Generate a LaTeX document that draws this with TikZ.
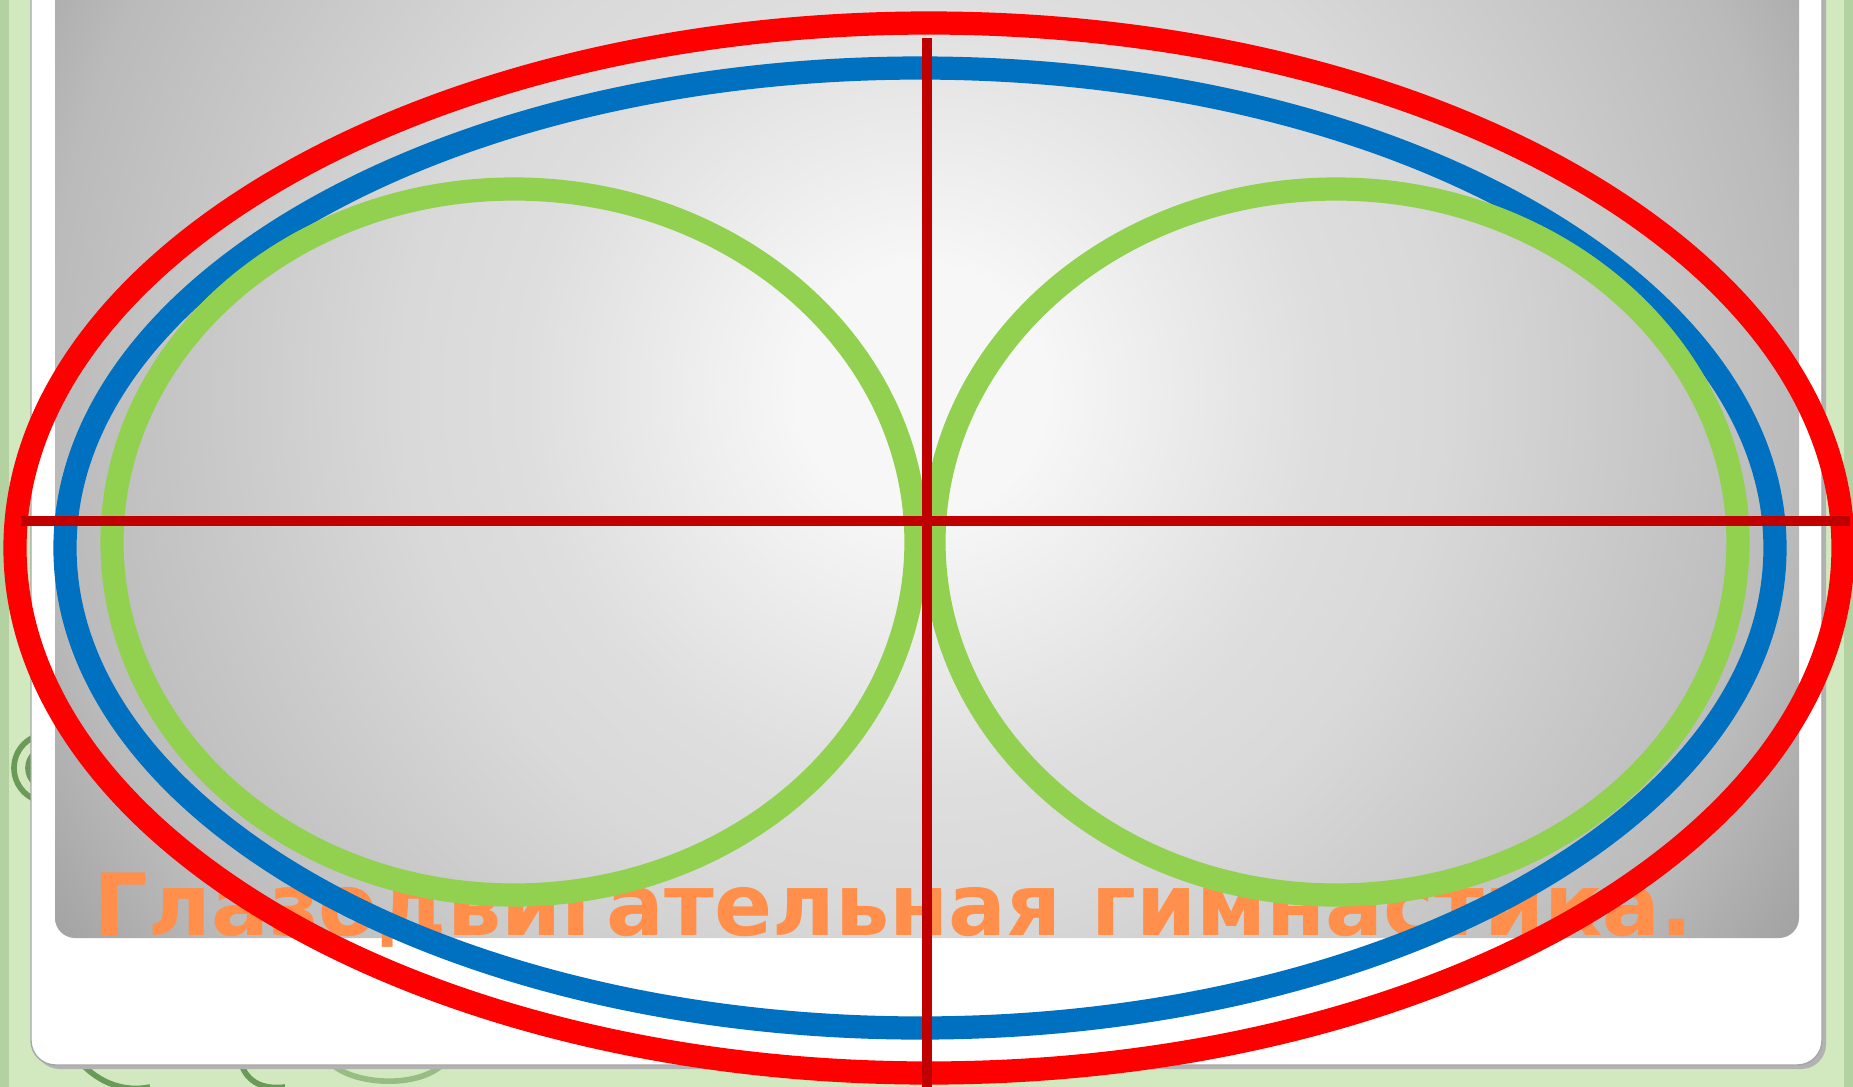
\documentclass[tikz,border=0pt]{standalone}
\usepackage{fontspec}
\newfontfamily\titlefont{DejaVu Sans}
\usepackage{xcolor}
\usetikzlibrary{positioning}

\definecolor{leafbg}{HTML}{D2E8BE}
\definecolor{leafdark}{HTML}{3F7A2E}
\definecolor{ringred}{HTML}{FF0000}
\definecolor{ringblue}{HTML}{0070C0}
\definecolor{ringgreen}{HTML}{92D050}
\definecolor{crossred}{HTML}{C00000}
\definecolor{titleorange}{HTML}{FF8F4A}
\pgfdeclareradialshading{panelglow}{\pgfpoint{0bp}{0bp}}{color(0bp)=(black!3); color(3bp)=(black!3); color(10bp)=(black!13); color(13bp)=(black!15); color(22bp)=(black!27); color(26bp)=(black!37); color(50bp)=(black!40)}

\begin{document}
\begin{tikzpicture}[x=0.01cm, y=-0.01cm,
  ring/.style={line width=6.6pt},
  cross/.style={draw=crossred, line width=3.1pt},
  swirl/.style={draw=leafdark, line width=1.6pt, opacity=.7}]
  \useasboundingbox (0,0) rectangle (1853,1087);
  \clip (0,0) rectangle (1853,1087);
  % green frame
  \fill[leafbg] (0,0) rectangle (1853,1087);
  \fill[leafdark, opacity=.2] (0,0) rectangle (9,1087);
  \fill[leafdark, opacity=.2] (1844,0) rectangle (1853,1087);
  \draw[swirl] (48,768) circle [radius=34];
  \draw[swirl] (48,768) circle [radius=20];
  \draw[swirl] (80,1062) .. controls (100,1084) and (125,1092) .. (150,1087);
  \draw[swirl] (240,1060) .. controls (245,1080) and (260,1090) .. (285,1087);
  \draw[swirl, opacity=.4] (330,1062) .. controls (350,1085) and (420,1090) .. (445,1062);
  % white card and grey panel
  \fill[black!30, rounded corners=7pt] (35,-40) rectangle (1826,1069);
  \draw[black!35, fill=white, rounded corners=7pt] (31,-40) rectangle (1822,1065);
  \begin{scope}
    \clip[rounded corners=5.7pt] (55,-40) rectangle (1799,938);
    \shade[shading=panelglow] (-78,-610) rectangle (1922,1390);
  \end{scope}
  \node[anchor=base west, inner sep=0pt, text=titleorange,
        font=\titlefont\bfseries\fontsize{24.4}{28}\selectfont] (title) at (93,935)
        {Глазодвигательная гимнастика.};
  % rings
  \coordinate (hub) at (927,521);
  \draw[ring, draw=ringred] (929,548) ellipse [x radius=914, y radius=525];
  \draw[ring, draw=ringblue] (920,548) ellipse [x radius=855, y radius=480];
  \foreach \cx in {514,1336}
    \draw[ring, draw=ringgreen] (\cx,542) ellipse [x radius=402, y radius=353];
  % cross lines
  \coordinate (hleft) at (21,521);
  \coordinate (hright) at (1850,521);
  \coordinate (vtop) at (927,38);
  \coordinate (vbottom) at (927,1090);
  \draw[cross] (hleft) -- (hright);
  \draw[cross] (vtop) -- (vbottom);
\end{tikzpicture}
\end{document}
